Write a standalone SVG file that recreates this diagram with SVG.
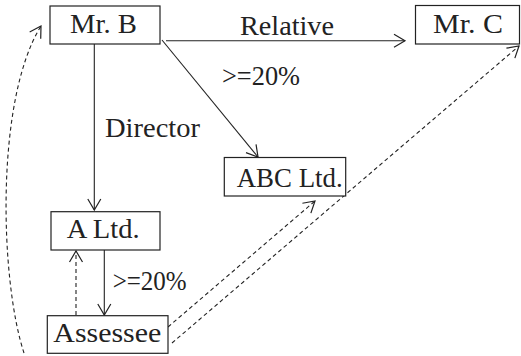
<svg xmlns="http://www.w3.org/2000/svg" width="521" height="356" viewBox="0 0 521 356" font-family="Liberation Serif, DejaVu Serif, Times New Roman, serif">
  <style>
    .box { fill: #fff; stroke: #222; stroke-width: 1.2; }
    .lbl { font-size: 27px; fill: #222; }
    .edge { fill: none; stroke: #222; stroke-width: 1.1; }
    .dash { stroke-dasharray: 4 3; }
  </style>
  <defs>
    <marker id="arrow" markerUnits="userSpaceOnUse" markerWidth="14" markerHeight="16" viewBox="0 0 14 16" refX="12" refY="8" orient="auto">
      <path d="M1,1.5 L12,8 L1,14.5" fill="none" stroke="#222" stroke-width="1.2" stroke-dasharray="none"/>
    </marker>
  </defs>

  <!-- connectors -->
  <g id="connectors">
    <line class="edge" x1="166" y1="40.7" x2="405" y2="40.7" marker-end="url(#arrow)"/>
    <line class="edge" x1="162" y1="40" x2="258" y2="157" marker-end="url(#arrow)"/>
    <line class="edge" x1="94.3" y1="44" x2="94.3" y2="210" marker-end="url(#arrow)"/>
    <line class="edge" x1="104.3" y1="250" x2="104.3" y2="315" marker-end="url(#arrow)"/>
    <line class="edge dash" x1="76" y1="315" x2="76" y2="251" marker-end="url(#arrow)"/>
    <line class="edge dash" x1="168" y1="327" x2="315" y2="201" marker-end="url(#arrow)"/>
    <line class="edge dash" x1="172" y1="343" x2="519" y2="46" marker-end="url(#arrow)"/>
    <path class="edge dash" d="M24,353 C0,280 -5,100 41,26" marker-end="url(#arrow)"/>
    <text class="lbl" x="240" y="34.5" textLength="94" lengthAdjust="spacingAndGlyphs">Relative</text>
    <text class="lbl" x="222" y="85" textLength="78" lengthAdjust="spacingAndGlyphs">&gt;=20%</text>
    <text class="lbl" x="105" y="137" textLength="95" lengthAdjust="spacingAndGlyphs">Director</text>
    <text class="lbl" x="112.7" y="290" textLength="74" lengthAdjust="spacingAndGlyphs">&gt;=20%</text>
  </g>

  <g id="mr-b">
    <rect class="box" x="50" y="6" width="110" height="38"/>
    <text class="lbl" x="70" y="33.3" textLength="67" lengthAdjust="spacingAndGlyphs">Mr. B</text>
  </g>

  <g id="mr-c">
    <rect class="box" x="415.5" y="5.5" width="104" height="38.5"/>
    <text class="lbl" x="433" y="33.3" textLength="70" lengthAdjust="spacingAndGlyphs">Mr. C</text>
  </g>

  <g id="abc-ltd">
    <rect class="box" x="224.3" y="157.5" width="121.4" height="38.5"/>
    <text class="lbl" x="236.7" y="187.3" textLength="106" lengthAdjust="spacingAndGlyphs">ABC Ltd.</text>
  </g>

  <g id="a-ltd">
    <rect class="box" x="51" y="211.7" width="109" height="38.3"/>
    <text class="lbl" x="66.7" y="238.3" textLength="73" lengthAdjust="spacingAndGlyphs">A Ltd.</text>
  </g>

  <g id="assessee">
    <rect class="box" x="47.3" y="315.7" width="120.7" height="37.6"/>
    <text class="lbl" x="53.3" y="341.7" textLength="108" lengthAdjust="spacingAndGlyphs">Assessee</text>
  </g>
</svg>
